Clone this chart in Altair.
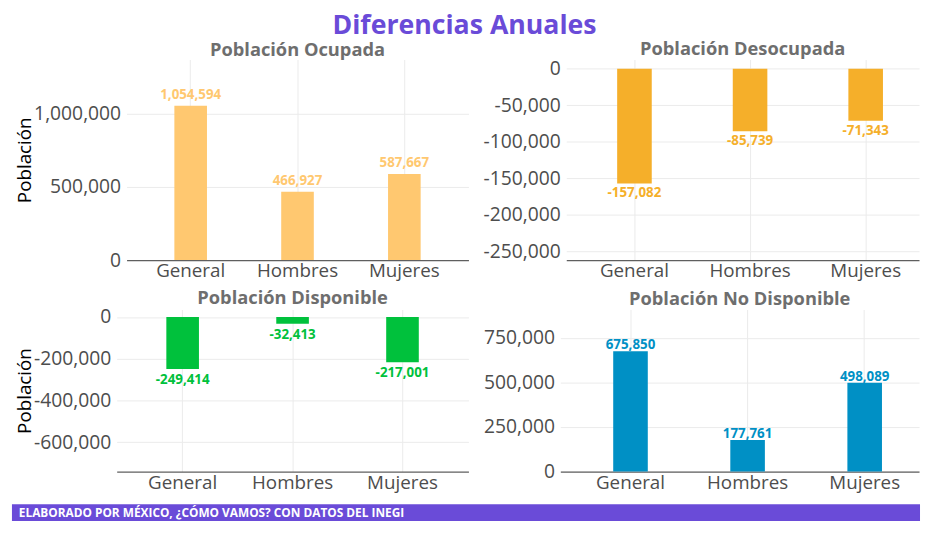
import altair as alt
import pandas as pd

categories = ["General", "Hombres", "Mujeres"]
ocupada = [1054594, 466927, 587667]
desocupada = [-157082, -85739, -71343]
disponible = [-249414, -32413, -217001]
no_disponible = [675850, 177761, 498089]

panel_titles = ["Población Ocupada", "Población Desocupada",
                "Población Disponible", "Población No Disponible"]
colors = ["#FFC870", "#F5AF2A", "#00C13C", "#0090C5"]
y_domains = [[0, 1371000], [-262000, 12600], [-740000, 36000], [0, 910000]]
y_ticks = [[0, 500000, 1000000],
           [0, -50000, -100000, -150000, -200000, -250000],
           [0, -200000, -400000, -600000],
           [0, 250000, 500000, 750000]]
main_title = "Diferencias Anuales"
footer_text = "ELABORADO POR MÉXICO, ¿CÓMO VAMOS? CON DATOS DEL INEGI"
y_title = "Población"

FONT = "Open Sans"
PURPLE = "#6A4BD8"
MINUS_EXPR = "replace(format(datum.value, ','), '\u2212', '-')"


def band_params(width, step, first_center):
    """paddingInner / paddingOuter / align so that bands have the given step
    and the first band centre lies at first_center px."""
    p = 2 * (first_center - width + 2.5 * step) / step
    po = (width / step - 3 + p) / 2
    return dict(paddingInner=p, paddingOuter=po, align=1)


def guard_layer(df, gx, gy=0):
    # invisible rule that fixes the layout bounds of a panel
    return alt.Chart(df).mark_rule(opacity=0).encode(
        x=alt.value(gx), y=alt.value(gy), y2=alt.value(gy + 1))


def panel(values, title, color, domain, tick_values, width, height,
          label_dy, bar_px, scale_kw, guard_x, guard_y=0, ytitle_x=None):
    df = pd.DataFrame({"cat": categories, "val": values,
                       "label": [f"{v:,}" for v in values]})
    positive = values[0] > 0
    x = alt.X("cat:N", sort=categories, title=None,
              scale=alt.Scale(**scale_kw),
              axis=alt.Axis(labelAngle=0, grid=True, bandPosition=0.5,
                            ticks=False, domain=True, labelPadding=2,
                            labelFontSize=19))
    ykw = dict(values=tick_values, labelExpr=MINUS_EXPR, ticks=False,
               domain=False, grid=True, labelPadding=6, labelFontSize=19.5)
    if ytitle_x is not None:
        ykw.update(title=y_title, titleX=ytitle_x)
    else:
        ykw.update(title=None)
    y = alt.Y("val:Q", scale=alt.Scale(domain=domain, nice=False, zero=False),
              axis=alt.Axis(**ykw))
    bars = alt.Chart(df).mark_bar(color=color, width=bar_px).encode(x=x, y=y)
    text = alt.Chart(df).mark_text(
        color=color, font=FONT, fontSize=13.5, fontWeight="bold",
        baseline="alphabetic" if positive else "top", dy=label_dy
    ).encode(x=x, y=y, text="label:N")
    return alt.layer(bars, text, guard_layer(df, guard_x, guard_y)).properties(
        width=width, height=height,
        title=alt.TitleParams(title, font=FONT, fontSize=18.5, fontWeight="bold",
                              color="#6E6E6E", anchor="middle", frame="group",
                              offset=0))


left_scale = dict(paddingInner=0, paddingOuter=0.1, align=0.5)

c1 = panel(ocupada, panel_titles[0], colors[0], y_domains[0], y_ticks[0],
           346, 203, -7, 33, left_scale, guard_x=-115, ytitle_x=-93)
c2 = panel(desocupada, panel_titles[1], colors[1], y_domains[1], y_ticks[1],
           357, 203, 3, 35, band_params(357, 117, 69), guard_x=-96)
c3 = panel(disponible, panel_titles[2], colors[2], y_domains[2], y_ticks[2],
           356, 164, 4, 33, left_scale, guard_x=-105, ytitle_x=-83)
c4 = panel(no_disponible, panel_titles[3], colors[3], y_domains[3], y_ticks[3],
           363, 164, -2, 35, band_params(363, 118.5, 71), guard_x=-90,
           guard_y=-1.3)

footer_df = pd.DataFrame({"t": [footer_text]})


def spacer():
    return guard_layer(footer_df, 0).properties(width=1, height=1)


row1 = alt.hconcat(spacer(), c1, c2, spacing=1)
row2 = alt.hconcat(spacer(), c3, c4, spacing=1)

FOOT_W = 919
FOOT_H = 17
fbg = alt.Chart(footer_df).mark_rect(color=PURPLE).encode(
    x=alt.value(0), x2=alt.value(FOOT_W), y=alt.value(0), y2=alt.value(FOOT_H))
ftx = alt.Chart(footer_df).mark_text(
    align="left", baseline="alphabetic", color="white", font=FONT,
    fontSize=12, fontWeight="bold").encode(x=alt.value(7), y=alt.value(13),
                                           text="t:N")
footer = alt.layer(fbg, ftx, guard_layer(footer_df, 0, -4)).properties(
    width=FOOT_W, height=FOOT_H)
row3 = alt.hconcat(spacer(), footer, spacing=0)

chart = alt.vconcat(row1, row2, row3, spacing=6).properties(
    title=alt.TitleParams(main_title, font=FONT, fontSize=27, fontWeight="bold",
                          color=PURPLE, anchor="middle", offset=0),
    padding={"left": 0, "top": 1, "right": 0, "bottom": 0},
).configure_view(stroke="transparent").configure_axis(
    labelFont=FONT, labelColor="#4D4D4D",
    titleFont=FONT, titleFontSize=19, titleColor="#000000",
    titleFontWeight="normal", gridColor="#EBEBEB", gridWidth=1,
    domainColor="#5F5F5F", domainWidth=1.3)

chart.save("out.html", embed_options={"renderer": "svg", "actions": False})
